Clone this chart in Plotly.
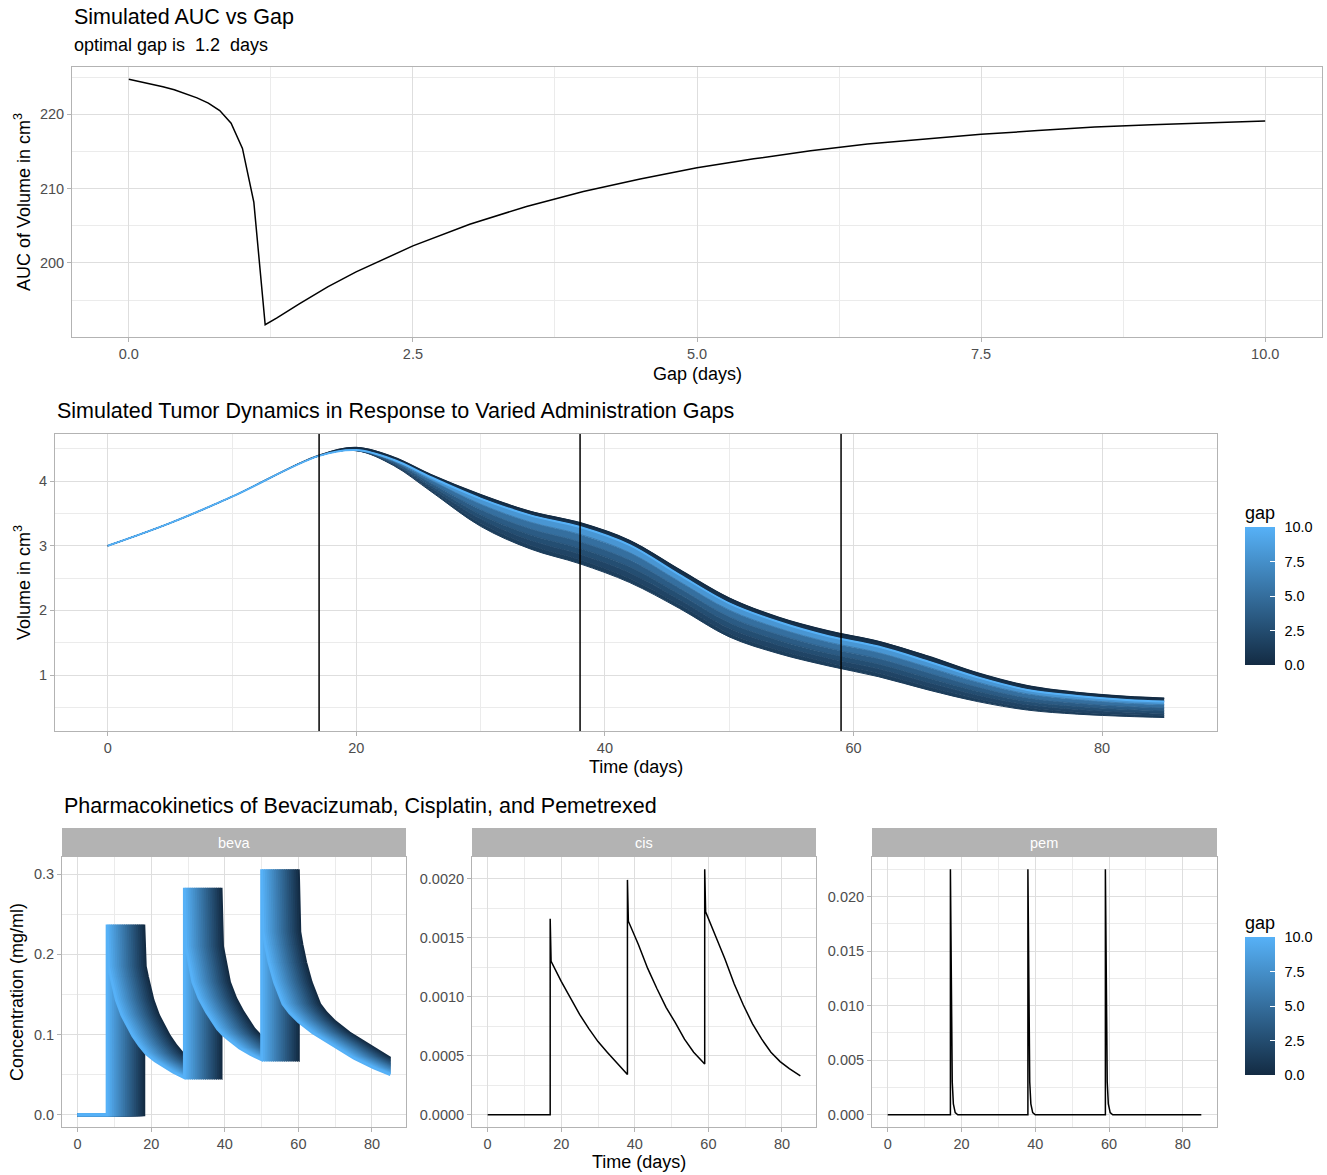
import numpy as np
import plotly.graph_objects as go
from plotly.colors import sample_colorscale

# ---------------------------------------------------------------- data
# Panel 1: AUC of tumour volume vs administration gap
AUC_GAP = [0.0, 0.1, 0.2, 0.3, 0.4, 0.5, 0.6, 0.7, 0.8, 0.9, 1.0, 1.1, 1.2,
           1.3, 1.4, 1.5, 1.75, 2.0, 2.5, 3.0, 3.5, 4.0, 4.5, 5.0, 5.5, 6.0,
           6.5, 7.0, 7.5, 8.0, 8.5, 9.0, 9.5, 10.0]
AUC_VALUE = [224.7, 224.4, 224.05, 223.7, 223.3, 222.8, 222.2, 221.5, 220.5,
             218.8, 215.4, 208.2, 191.7, 192.6, 193.6, 194.5, 196.8, 198.8,
             202.3, 205.2, 207.6, 209.6, 211.3, 212.8, 214.0, 215.1, 216.0,
             216.7, 217.3, 217.8, 218.3, 218.6, 218.9, 219.1]

# Panel 2: tumour volume (cm^3) over time for a selection of gaps
TUMOR_TIME = [0, 5, 10, 17, 20, 23, 26, 30, 34, 38, 42, 46, 50, 54, 58, 62,
              66, 70, 74, 78, 82, 85]
TUMOR_GAP_00 = [3.0, 3.35, 3.76, 4.40, 4.52, 4.37, 4.10, 3.79, 3.53, 3.355,
                3.08, 2.63, 2.19, 1.89, 1.68, 1.52, 1.29, 1.03, 0.833, 0.729,
                0.667, 0.64]
TUMOR_GAP_12 = [3.0, 3.35, 3.76, 4.39, 4.47, 4.24, 3.84, 3.30, 2.95, 2.72,
                2.43, 2.03, 1.59, 1.33, 1.14, 0.975, 0.77, 0.589, 0.458, 0.395,
                0.36, 0.343]
TUMOR_GAP_16 = [3.0, 3.35, 3.76, 4.39, 4.471, 4.250, 3.864, 3.347, 3.007,
                2.783, 2.494, 2.087, 1.647, 1.384, 1.191, 1.026, 0.818, 0.630,
                0.492, 0.426, 0.388, 0.370]
TUMOR_GAP_22 = [3.0, 3.35, 3.76, 4.39, 4.473, 4.263, 3.897, 3.412, 3.085,
                2.868, 2.581, 2.165, 1.725, 1.457, 1.260, 1.096, 0.884, 0.687,
                0.539, 0.468, 0.426, 0.407]
TUMOR_GAP_30 = [3.0, 3.35, 3.76, 4.39, 4.474, 4.278, 3.932, 3.481, 3.168,
                2.959, 2.674, 2.248, 1.808, 1.536, 1.333, 1.170, 0.955, 0.747,
                0.589, 0.513, 0.467, 0.447]
TUMOR_GAP_42 = [3.0, 3.35, 3.76, 4.39, 4.476, 4.294, 3.972, 3.558, 3.262,
                3.062, 2.778, 2.342, 1.902, 1.624, 1.416, 1.254, 1.034, 0.814,
                0.645, 0.564, 0.513, 0.491]
TUMOR_GAP_60 = [3.0, 3.35, 3.76, 4.39, 4.478, 4.312, 4.016, 3.644, 3.366,
                3.176, 2.894, 2.446, 2.006, 1.722, 1.508, 1.347, 1.122, 0.889,
                0.708, 0.621, 0.564, 0.541]
TUMOR_GAP_100 = [3.0, 3.35, 3.76, 4.39, 4.48, 4.33, 4.06, 3.73, 3.47, 3.29,
                 3.01, 2.55, 2.11, 1.82, 1.60, 1.44, 1.21, 0.964, 0.77, 0.677,
                 0.615, 0.59]
DOSE_DAYS = [17, 38, 59]

# Panel 3: pharmacokinetics (mg/ml)
# bevacizumab profile vs days since first beva dose (gap-0 schedule, 1st dose day 18)
BEVA_FIRST_DOSE_GAP0 = 18
BEVA_TAU = [-18, 0, 0, 0.4, 1, 2.5, 4, 5.5, 7, 8.8, 10.6, 13, 15, 18, 21,
            21, 21.4, 22, 23.3, 25, 27, 30, 31.4, 33, 36, 39, 42,
            42, 42.4, 43, 44, 45.5, 47.8, 49.6, 52, 55.9, 60, 63, 67,
            67.5, 68, 68.5, 69, 69.5, 70, 70.5, 71, 71.5, 72, 72.5, 73, 73.5,
            74, 74.5, 75, 75.5, 76, 76.5, 77]
BEVA_CONC = [0.0, 0.0, 0.237, 0.185, 0.172, 0.143, 0.124, 0.111, 0.098, 0.086,
             0.076, 0.067, 0.061, 0.053, 0.046,
             0.283, 0.21, 0.195, 0.165, 0.145, 0.128, 0.107, 0.100, 0.094,
             0.083, 0.075, 0.0685,
             0.306, 0.228, 0.212, 0.19, 0.165, 0.138, 0.127, 0.116, 0.102,
             0.09, 0.082, 0.0706,
             0.0694, 0.0682, 0.0670, 0.0659, 0.0648, 0.0637, 0.0626, 0.0615,
             0.0605, 0.0594, 0.0584, 0.0574, 0.0565, 0.0555, 0.0546, 0.0536,
             0.0527, 0.0518, 0.0509, 0.0500]
PK_GAPS = [0.0, 0.5, 1.0, 1.5, 2.0, 2.5, 3.0, 3.5, 4.0, 4.5, 5.0, 5.5, 6.0,
           6.5, 7.0, 7.5, 8.0, 8.5, 9.0, 9.5, 10.0]
SIM_END = 85

CIS_T = [0, 17, 17, 17.25, 20, 22.5, 25, 27.5, 30, 32.5, 35, 38, 38, 38.25,
         41, 43.5, 46, 48.5, 51, 53.5, 56, 59, 59, 59.25, 62, 64.5, 67, 69.5,
         72, 74.5, 77, 79.5, 82, 85]
CIS_C = [0, 0, 0.00166, 0.0013, 0.00113, 0.00099, 0.00085, 0.00073, 0.00062,
         0.00053, 0.00044, 0.00034, 0.00199, 0.00164, 0.00144, 0.00124,
         0.00107, 0.00091, 0.00078, 0.00064, 0.00053, 0.00043, 0.00208,
         0.00172, 0.00151, 0.00132, 0.00111, 0.00093, 0.00077, 0.00064,
         0.00053, 0.00045, 0.00039, 0.00033]

PEM_T = [0, 17, 17, 17.15, 17.3, 17.5, 17.8, 18.3, 19,
         38, 38, 38.15, 38.3, 38.5, 38.8, 39.3, 40,
         59, 59, 59.15, 59.3, 59.5, 59.8, 60.3, 61, 85]
PEM_C = [0, 0, 0.0225, 0.014, 0.0075, 0.003, 0.001, 0.0002, 0,
         0, 0.0225, 0.014, 0.0075, 0.003, 0.001, 0.0002, 0,
         0, 0.0225, 0.014, 0.0075, 0.003, 0.001, 0.0002, 0, 0]

FACET_LABELS = ["beva", "cis", "pem"]
GAP_TICKS = [0.0, 2.5, 5.0, 7.5, 10.0]

# ---------------------------------------------------------------- style
W, H = 1327, 1175
FONT = "Liberation Sans, Arial, Helvetica, sans-serif"
COLORSCALE = [[0.0, "#132B43"], [1.0, "#56B1F7"]]
GMIN, GMAX = min(PK_GAPS), max(PK_GAPS)


def gap_color(g):
    return sample_colorscale(COLORSCALE, (g - GMIN) / (GMAX - GMIN))[0]


def px_x(px):
    return px / W


def px_y(px):
    return 1 - px / H


def expand(vals, frac=0.05):
    lo, hi = float(np.min(vals)), float(np.max(vals))
    span = hi - lo
    return [lo - frac * span, hi + frac * span]


def axis(domain, rng, dtick, tick0, minor_dtick, fmt=None, anchor=None):
    d = dict(domain=domain, range=rng, dtick=dtick, tick0=tick0,
             showline=True, mirror=True, linecolor="#B3B3B3", linewidth=1,
             ticks="outside", ticklen=4, tickcolor="#B3B3B3", tickwidth=1,
             showgrid=True, gridcolor="#DEDEDE", gridwidth=1, zeroline=False,
             tickfont=dict(size=14.5, color="#4D4D4D", family=FONT),
             minor=dict(dtick=minor_dtick, tick0=tick0, showgrid=True,
                        gridcolor="#EBEBEB", gridwidth=0.7, ticks=""),
             layer="below traces")
    if fmt:
        d["tickformat"] = fmt
    if anchor:
        d["anchor"] = anchor
    return d


fig = go.Figure()

# ---------------------------------------------------------------- panel 1
fig.add_trace(go.Scatter(x=AUC_GAP, y=AUC_VALUE, mode="lines",
                         line=dict(color="black", width=1.5),
                         xaxis="x", yaxis="y", showlegend=False))
optimal_gap = AUC_GAP[int(np.argmin(AUC_VALUE))]

# ---------------------------------------------------------------- panel 2
TUMOR_CURVES = {0.0: TUMOR_GAP_00, 1.2: TUMOR_GAP_12, 1.6: TUMOR_GAP_16,
                2.2: TUMOR_GAP_22, 3.0: TUMOR_GAP_30, 4.2: TUMOR_GAP_42,
                6.0: TUMOR_GAP_60, 10.0: TUMOR_GAP_100}
order = sorted(TUMOR_CURVES, key=lambda g: sum(TUMOR_CURVES[g]))
above_light = [g for g, v in zip(AUC_GAP, AUC_VALUE) if v > AUC_VALUE[-1]]
for i, g in enumerate(order):
    if i == 0:
        fill, fcol = "none", None
    else:
        prev = order[i - 1]
        fg = np.mean(above_light) if g < prev else (g + prev) / 2
        fill, fcol = "tonexty", gap_color(fg)
    fig.add_trace(go.Scatter(x=TUMOR_TIME, y=TUMOR_CURVES[g], mode="lines",
                             line=dict(color=gap_color(g), width=1.0,
                                       shape="spline"),
                             fill=fill, fillcolor=fcol,
                             xaxis="x2", yaxis="y2", showlegend=False,
                             hoverinfo="skip"))
fig.add_trace(go.Scatter(x=TUMOR_TIME, y=TUMOR_CURVES[0.0], mode="lines",
                         line=dict(color=gap_color(0.0), width=1.5,
                                   shape="spline"),
                         xaxis="x2", yaxis="y2", showlegend=False))
fig.add_trace(go.Scatter(x=TUMOR_TIME, y=TUMOR_CURVES[10.0], mode="lines",
                         line=dict(color=gap_color(10.0), width=2,
                                   shape="spline"),
                         xaxis="x2", yaxis="y2", showlegend=False))
for d in DOSE_DAYS:
    fig.add_shape(type="line", xref="x2", yref="y2 domain", x0=d, x1=d,
                  y0=0, y1=1, line=dict(color="black", width=1.5))


def colorbar_traces(xa, ya, bar_top_px, bar_bottom_px):
    title_h = 25
    bar_len = bar_bottom_px - bar_top_px
    common = dict(x=px_x(1245), xanchor="left", xpad=0, ypad=0,
                  yanchor="bottom", y=px_y(bar_bottom_px),
                  thickness=30, thicknessmode="pixels", outlinewidth=0,
                  tickvals=GAP_TICKS, tickformat=".1f",
                  tickfont=dict(size=14.5, color="black", family=FONT))
    labelled = dict(common, len=bar_len + title_h, lenmode="pixels",
                    ticks="outside", ticklen=7, tickcolor="rgba(0,0,0,0)",
                    title=dict(text="gap", side="top",
                               font=dict(size=18, color="black",
                                         family=FONT)))
    marks = dict(common, len=bar_len, lenmode="pixels", ticks="inside",
                 ticklen=5, tickcolor="white", tickwidth=1,
                 showticklabels=False)
    out = []
    for cb in (labelled, marks):
        out.append(go.Scatter(
            x=[None], y=[None], mode="markers", xaxis=xa, yaxis=ya,
            showlegend=False, hoverinfo="skip",
            marker=dict(color=[GMIN], cmin=GMIN, cmax=GMAX,
                        colorscale=COLORSCALE, showscale=True, colorbar=cb)))
    return out


for tr in colorbar_traces("x2", "y2", 527, 665):
    fig.add_trace(tr)

# ---------------------------------------------------------------- panel 3
tau = np.array(BEVA_TAU, dtype=float)
conc = np.array(BEVA_CONC, dtype=float)
for g in PK_GAPS:
    x = BEVA_FIRST_DOSE_GAP0 - g + tau
    keep = x <= SIM_END + 1e-6
    fig.add_trace(go.Scatter(x=np.maximum(x[keep], 0), y=conc[keep],
                             mode="lines",
                             line=dict(color=gap_color(g), width=2.8),
                             xaxis="x3", yaxis="y3", showlegend=False,
                             hoverinfo="skip"))
fig.add_trace(go.Scatter(x=CIS_T, y=CIS_C, mode="lines",
                         line=dict(color="black", width=1.5),
                         xaxis="x4", yaxis="y4", showlegend=False))
fig.add_trace(go.Scatter(x=PEM_T, y=PEM_C, mode="lines",
                         line=dict(color="black", width=1.5),
                         xaxis="x5", yaxis="y5", showlegend=False))
for tr in colorbar_traces("x3", "y3", 937, 1075):
    fig.add_trace(tr)

# ---------------------------------------------------------------- layout
time_rng = expand([0, SIM_END])
all_tumor = np.concatenate([np.array(v) for v in TUMOR_CURVES.values()])
bottom_dom = [px_y(1127), px_y(857)]
facet_dom = [[px_x(62), px_x(406)], [px_x(472), px_x(816)],
             [px_x(872), px_x(1217)]]

fig.update_layout(
    width=W, height=H, autosize=False,
    margin=dict(l=0, r=0, t=0, b=0),
    paper_bgcolor="white", plot_bgcolor="white",
    font=dict(family=FONT, color="black"),
    xaxis=axis([px_x(72), px_x(1322)], expand(AUC_GAP), 2.5, 0, 1.25,
               ".1f", "y"),
    yaxis=axis([px_y(337), px_y(67)], expand(AUC_VALUE), 10, 190, 5,
               None, "x"),
    xaxis2=axis([px_x(55), px_x(1217)], time_rng, 20, 0, 10, None, "y2"),
    yaxis2=axis([px_y(731), px_y(434)], expand(all_tumor), 1, 0, 0.5,
                None, "x2"),
    xaxis3=axis(facet_dom[0], time_rng, 20, 0, 10, None, "y3"),
    yaxis3=axis(bottom_dom, expand(BEVA_CONC), 0.1, 0, 0.05, ".1f", "x3"),
    xaxis4=axis(facet_dom[1], time_rng, 20, 0, 10, None, "y4"),
    yaxis4=axis(bottom_dom, expand(CIS_C), 0.0005, 0, 0.00025, ".4f", "x4"),
    xaxis5=axis(facet_dom[2], time_rng, 20, 0, 10, None, "y5"),
    yaxis5=axis(bottom_dom, expand(PEM_C), 0.005, 0, 0.0025, ".3f", "x5"),
)

# facet strips
for dom, lab in zip(facet_dom, FACET_LABELS):
    fig.add_shape(type="rect", xref="paper", yref="paper", x0=dom[0],
                  x1=dom[1], y0=px_y(857), y1=px_y(828),
                  fillcolor="#B3B3B3", line=dict(width=0), layer="below")
    fig.add_annotation(x=(dom[0] + dom[1]) / 2, y=px_y(842.5), xref="paper",
                       yref="paper", text=lab, showarrow=False,
                       font=dict(size=14.5, color="white", family=FONT),
                       xanchor="center", yanchor="middle")


def label(text, xp, yp, size=18, xanchor="left", angle=0):
    fig.add_annotation(x=px_x(xp), y=px_y(yp), xref="paper", yref="paper",
                       text=text, showarrow=False, textangle=angle,
                       font=dict(size=size, color="black", family=FONT),
                       xanchor=xanchor, yanchor="middle")


label("Simulated AUC vs Gap", 72, 17, 21.5)
label(f"optimal gap is \u00a0{optimal_gap} \u00a0days", 72, 45, 18)
label("Gap (days)", 697, 374, 18, "center")
label("AUC of Volume in cm<sup>3</sup>", 22, 202, 18, "center", -90)
label("Simulated Tumor Dynamics in Response to Varied Administration Gaps",
      55, 411, 21.5)
label("Time (days)", 636, 767, 18, "center")
label("Volume in cm<sup>3</sup>", 22, 583, 18, "center", -90)
label("Pharmacokinetics of Bevacizumab, Cisplatin, and Pemetrexed",
      62, 806, 21.5)
label("Time (days)", 639, 1162, 18, "center")
label("Concentration (mg/ml)", 17, 992, 18, "center", -90)

fig.write_html(
    "out.html",
    config={"displayModeBar": False},
    post_script="document.body.style.margin='0';"
                "document.body.style.overflow='hidden';")
